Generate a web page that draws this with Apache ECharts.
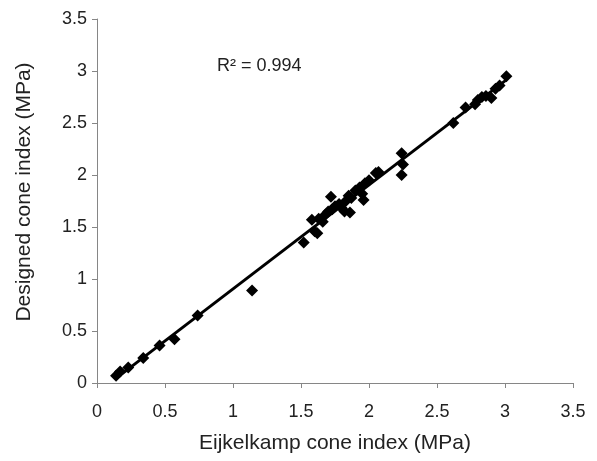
<!DOCTYPE html>
<html>
<head>
<meta charset="utf-8">
<script src="https://cdn.jsdelivr.net/npm/echarts@6/dist/echarts.min.js"></script>
<style>html,body{margin:0;padding:0;background:#fff}#c{width:597px;height:461px}</style>
</head>
<body>
<div id="c"></div>
<script>
// Eijkelkamp cone index (MPa)
var xValues = [0.14,0.17,0.23,0.34,0.46,0.57,0.74,1.14,1.52,1.58,1.60,1.62,1.63,1.66,1.68,1.70,1.72,1.73,1.75,1.78,1.80,1.82,1.83,1.85,1.86,1.87,1.90,1.93,1.95,1.96,1.97,2.00,2.05,2.07,2.24,2.25,2.24,2.62,2.71,2.78,2.80,2.83,2.86,2.90,2.93,2.96,3.01];
// Designed cone index (MPa)
var yValues = [0.07,0.11,0.15,0.24,0.36,0.42,0.65,0.89,1.35,1.57,1.46,1.44,1.58,1.55,1.62,1.65,1.79,1.67,1.70,1.72,1.68,1.65,1.75,1.80,1.64,1.78,1.85,1.88,1.82,1.76,1.92,1.95,2.02,2.03,2.21,2.10,2.00,2.50,2.65,2.68,2.72,2.75,2.76,2.74,2.83,2.86,2.95];
var axisTicks = [0,0.5,1,1.5,2,2.5,3,3.5];
var r2Label = "R\u00B2 = 0.994";

var pts = xValues.map(function(x,i){return [x,yValues[i]];});
// least-squares trendline from the data
var n = xValues.length, sx=0, sy=0, sxx=0, sxy=0;
for (var i=0;i<n;i++){sx+=xValues[i];sy+=yValues[i];sxx+=xValues[i]*xValues[i];sxy+=xValues[i]*yValues[i];}
var slope = (n*sxy-sx*sy)/(n*sxx-sx*sx), icpt = (sy-slope*sx)/n;
var xmin = Math.min.apply(null,xValues), xmax = Math.max.apply(null,xValues);
var fit = [[xmin, slope*xmin+icpt],[xmax, slope*xmax+icpt]];

var font = 'Liberation Sans, Arial, sans-serif';
var axisCommon = {
  min: axisTicks[0], max: axisTicks[axisTicks.length-1], interval: 0.5,
  axisLine: {show:true, lineStyle:{color:'#868686', width:1}},
  axisTick: {show:true, inside:false, length:5, lineStyle:{color:'#868686'}},
  splitLine: {show:false},
  nameLocation: 'middle'
};
var chart = echarts.init(document.getElementById('c'), null, {renderer:'canvas'});
chart.setOption({
  animation: false,
  backgroundColor: '#fff',
  grid: {left:97, right:24, top:19, bottom:78},
  xAxis: Object.assign({}, axisCommon, {
    type:'value', name:'Eijkelkamp cone index (MPa)', nameGap: 50,
    nameTextStyle: {fontFamily: font, fontSize: 21, color:'#222'},
    axisLabel:{fontFamily:font, fontSize:18, color:'#222', margin:20,
      formatter:function(v){return String(v);}}
  }),
  yAxis: Object.assign({}, axisCommon, {
    type:'value', name:'Designed cone index (MPa)', nameGap: 62,
    nameTextStyle: {fontFamily: font, fontSize: 21, color:'#222', padding:[0,0,0,18]},
    axisLabel:{fontFamily:font, fontSize:18, color:'#222', margin:10,
      formatter:function(v){return String(v);}}
  }),
  graphic: [{
    type:'text', left:217, top:57,
    style:{text:r2Label, font:'18px ' + font, fill:'#222'}
  }],
  series: [{
    type:'line', data: fit, symbol:'none', z:3,
    lineStyle:{color:'#000', width:3}
  },{
    type:'scatter', data: pts, symbol:'diamond', symbolSize:12, z:4,
    itemStyle:{color:'#000', opacity:1}
  }]
});
</script>
</body>
</html>
